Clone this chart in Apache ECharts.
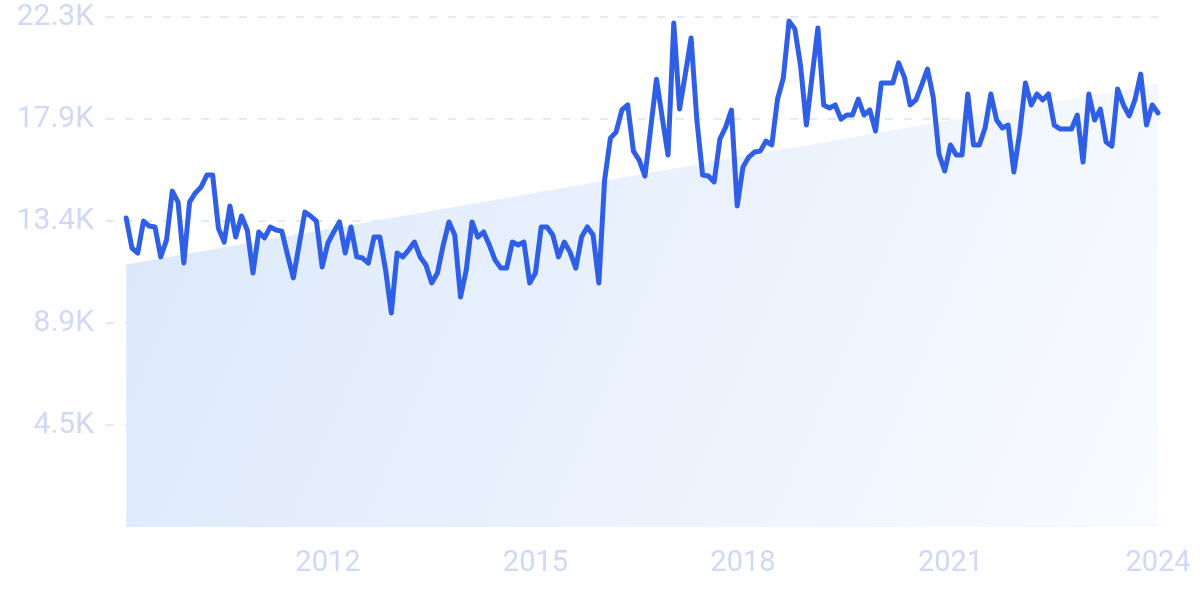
<!DOCTYPE html>
<html>
<head>
<meta charset="utf-8">
<script src="https://cdn.jsdelivr.net/npm/echarts@6/dist/echarts.min.js"></script>
<style>
  html, body { margin: 0; padding: 0; background: #fff; }
  #chart { width: 1200px; height: 599px; }
</style>
</head>
<body>
<div id="chart"></div>
<script>
// monthly values, Feb 2009 .. Jan 2024
const values = [
  13520, 12210, 11990, 13390, 13170, 13130, 11820, 12560, 14700, 14220, 11550,
  14220, 14620, 14880, 15400, 15400, 13080, 12470, 14050, 12690, 13610, 13000, 11120,
  12910, 12650, 13130, 13000, 12950, 11900, 10900, 12340, 13780, 13610, 13390, 11380,
  12430, 12910, 13350, 11990, 13130, 11820, 11770, 11550, 12690, 12690, 11250, 9370,
  11990, 11820, 12120, 12470, 11820, 11470, 10680, 11120, 12340, 13350, 12780, 10070,
  11250, 13350, 12690, 12910, 12340, 11680, 11330, 11330, 12470, 12340, 12470, 10680,
  11120, 13130, 13130, 12780, 11820, 12470, 12030, 11330, 12690, 13130, 12780, 10680,
  15190, 17020, 17290, 18250, 18470, 16450, 16060, 15360, 17460, 19600, 17900, 16280,
  22060, 18290, 19820, 21400, 17810, 15400, 15360, 15100, 16980, 17500, 18250, 14050,
  15750, 16190, 16410, 16450, 16890, 16720, 18730, 19650, 22140, 21790, 20170, 17590,
  19740, 21840, 18470, 18340, 18470, 17850, 18030, 18030, 18730, 18030, 18250, 17330,
  19430, 19430, 19430, 20310, 19690, 18470, 18690, 19340, 20040, 18820, 16320, 15580,
  16720, 16280, 16280, 18950, 16720, 16720, 17460, 18950, 17810, 17460, 17590, 15540,
  17240, 19430, 18470, 18950, 18690, 18950, 17590, 17420, 17420, 17420, 18030, 15970,
  18950, 17810, 18290, 16850, 16670, 19170, 18470, 17990, 18690, 19820, 17590, 18470,
  18120
];
// linear trend, first and last month
const trendEnds = [11490, 19400];
const yearTicks = [35, 71, 107, 143, 179];
const yearLabels = ['2012', '2015', '2018', '2021', '2024'];
const yMax = 22320;
const yStep = 4464;

const lineData = values.map((v, i) => [i, v]);
const trendData = [[0, trendEnds[0]], [values.length - 1, trendEnds[1]]];

const chart = echarts.init(document.getElementById('chart'));
chart.setOption({
  animation: false,
  grid: { left: 106, right: 42, top: 17, bottom: 72 },
  xAxis: {
    type: 'value',
    min: -3.5,
    max: values.length - 1,
    axisLine: { show: false },
    axisTick: { show: false },
    splitLine: { show: false },
    axisLabel: {
      customValues: yearTicks,
      formatter: (v) => yearLabels[yearTicks.indexOf(Math.round(v))] || '',
      color: '#cfd8f4',
      fontFamily: 'Roboto',
      fontSize: 29,
      margin: 22
    }
  },
  yAxis: {
    type: 'value',
    min: 0,
    max: yMax,
    interval: yStep,
    axisLine: { show: false },
    axisTick: { show: false },
    axisLabel: {
      showMinLabel: false,
      formatter: (v) => v === 0 ? '' : (v / 1000).toFixed(1) + 'K',
      color: '#cfd8f4',
      fontFamily: 'Roboto',
      fontSize: 30,
      margin: 12
    },
    splitLine: {
      showMinLine: false,
      lineStyle: { color: '#d6e3fb', type: [8, 11], width: 1.5 }
    }
  },
  series: [
    {
      type: 'line',
      data: trendData,
      symbol: 'none',
      lineStyle: { width: 0 },
      areaStyle: {
        opacity: 1,
        color: new echarts.graphic.LinearGradient(0, 0, 1, 1, [
          { offset: 0, color: '#dbe8fb' },
          { offset: 1, color: '#f9fbff' }
        ])
      },
      z: 1
    },
    {
      type: 'line',
      data: lineData,
      symbol: 'none',
      lineStyle: { color: '#2e5fe6', width: 5, join: 'round', cap: 'round' },
      z: 3
    }
  ]
});
</script>
</body>
</html>
